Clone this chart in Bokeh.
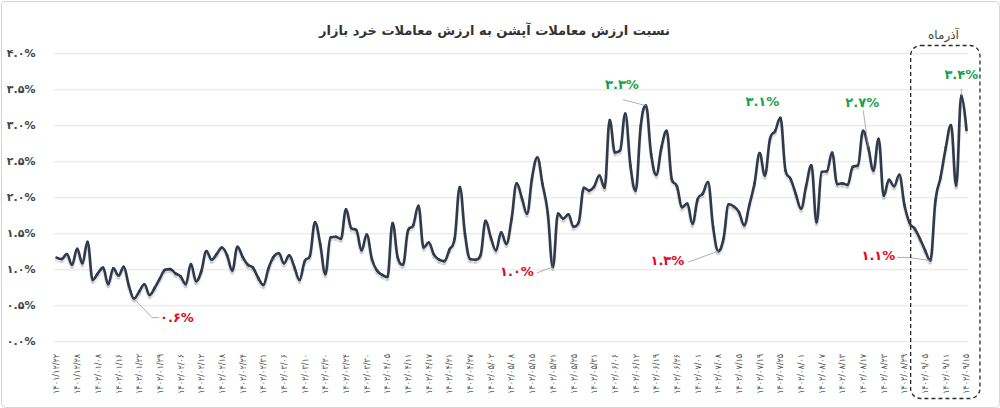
import numpy as np
from bokeh.plotting import figure
from bokeh.models import (Range1d, FixedTicker, Label, BoxAnnotation, ColumnDataSource)
from bokeh.embed import file_html
from bokeh.resources import INLINE

# Daily ratio of option trading value to retail market trading value (%)
ratio = [
    1.17, 1.15, 1.22, 1.07, 1.29, 1.09, 1.39, 0.86, 0.95, 1.03,
    0.80, 1.02, 0.92, 1.04, 0.78, 0.60, 0.70, 0.80, 0.65, 0.75,
    0.88, 1.00, 1.01, 0.95, 0.91, 0.80, 1.08, 0.84, 0.98, 1.26,
    1.14, 1.22, 1.31, 1.20, 0.99, 1.32, 1.18, 1.07, 1.03, 0.89,
    0.79, 1.02, 1.18, 1.23, 1.09, 1.20, 1.04, 0.86, 1.12, 1.19,
    1.66, 1.36, 0.94, 1.45, 1.46, 1.43, 1.84, 1.58, 1.55, 1.27,
    1.49, 1.15, 0.99, 0.93, 0.90, 1.65, 1.17, 1.07, 1.55, 1.62,
    1.89, 1.31, 1.38, 1.21, 1.14, 1.12, 1.28, 1.43, 2.15, 1.50,
    1.15, 1.14, 1.20, 1.68, 1.45, 1.27, 1.52, 1.36, 1.70, 2.20,
    2.00, 1.78, 2.29, 2.56, 2.19, 1.80, 1.04, 1.78, 1.71, 1.77,
    1.60, 1.66, 2.14, 2.10, 2.16, 2.31, 2.14, 3.08, 2.63, 2.66,
    3.17, 2.45, 2.10, 3.00, 3.28, 2.61, 2.32, 2.70, 2.93, 2.26,
    2.16, 1.87, 1.92, 1.64, 1.98, 2.06, 2.22, 1.59, 1.26, 1.43,
    1.91, 1.88, 1.80, 1.62, 1.90, 2.20, 2.62, 2.31, 2.82, 2.93,
    3.11, 2.38, 2.26, 2.05, 1.85, 2.17, 2.45, 1.66, 2.36, 2.37,
    2.63, 2.19, 2.20, 2.18, 2.43, 2.45, 2.93, 2.70, 2.38, 2.82,
    2.03, 2.25, 2.16, 2.32, 1.90, 1.65, 1.57, 1.43, 1.27, 1.13,
    1.96, 2.29, 2.70, 3.01, 2.17, 3.42, 2.94,
]

# Dates shown on the x axis (one every fourth trading day)
date_labels = [
    "۱۴۰۱/۱۲/۲۲", "۱۴۰۱/۱۲/۲۸", "۱۴۰۲/۰۱/۰۸", "۱۴۰۲/۰۱/۱۶", "۱۴۰۲/۰۱/۲۲",
    "۱۴۰۲/۰۱/۲۹", "۱۴۰۲/۰۲/۰۶", "۱۴۰۲/۰۲/۱۲", "۱۴۰۲/۰۲/۱۸", "۱۴۰۲/۰۲/۲۴",
    "۱۴۰۲/۰۲/۳۱", "۱۴۰۲/۰۳/۰۶", "۱۴۰۲/۰۳/۱۰", "۱۴۰۲/۰۳/۲۰", "۱۴۰۲/۰۳/۲۴",
    "۱۴۰۲/۰۳/۳۰", "۱۴۰۲/۰۴/۰۵", "۱۴۰۲/۰۴/۱۱", "۱۴۰۲/۰۴/۱۷", "۱۴۰۲/۰۴/۲۱",
    "۱۴۰۲/۰۴/۲۷", "۱۴۰۲/۰۵/۰۲", "۱۴۰۲/۰۵/۰۸", "۱۴۰۲/۰۵/۱۵", "۱۴۰۲/۰۵/۲۱",
    "۱۴۰۲/۰۵/۲۵", "۱۴۰۲/۰۵/۳۱", "۱۴۰۲/۰۶/۰۶", "۱۴۰۲/۰۶/۱۲", "۱۴۰۲/۰۶/۱۹",
    "۱۴۰۲/۰۶/۲۶", "۱۴۰۲/۰۷/۰۱", "۱۴۰۲/۰۷/۰۸", "۱۴۰۲/۰۷/۱۵", "۱۴۰۲/۰۷/۱۹",
    "۱۴۰۲/۰۷/۲۵", "۱۴۰۲/۰۸/۰۱", "۱۴۰۲/۰۸/۰۷", "۱۴۰۲/۰۸/۱۳", "۱۴۰۲/۰۸/۱۷",
    "۱۴۰۲/۰۸/۲۳", "۱۴۰۲/۰۸/۲۹", "۱۴۰۲/۰۹/۰۵", "۱۴۰۲/۰۹/۱۱", "۱۴۰۲/۰۹/۱۵",
]
label_step = 4

y_ticks = [0.0, 0.5, 1.0, 1.5, 2.0, 2.5, 3.0, 3.5, 4.0]
y_tick_labels = ["۰.۰%", "۰.۵%", "۱.۰%", "۱.۵%", "۲.۰%", "۲.۵%", "۳.۰%", "۳.۵%", "۴.۰%"]

# Called-out lows and highs (index into ratio)
low_points = [15, 96, 128, 169]
high_points = [114, 140, 157, 175]

title_text = "نسبت ارزش معاملات آپشن به ارزش معاملات خرد بازار"
month_text = "آذرماه"

FA_DIGITS = str.maketrans("0123456789", "۰۱۲۳۴۵۶۷۸۹")


def fa_percent(v):
    return f"{v:.1f}%".translate(FA_DIGITS)


def spline_parts(xs, ys, smoothing=1.5):
    """Bezier control points so extremes stay flat (no overshoot)."""
    n = len(xs)
    denom = smoothing + 1
    lc = [(xs[i], ys[i]) for i in range(n)]
    rc = [(xs[i], ys[i]) for i in range(n)]
    for i in range(1, n - 1):
        x, y = xs[i], ys[i]
        lx, ly = xs[i - 1], ys[i - 1]
        nx, ny = xs[i + 1], ys[i + 1]
        lcx = (smoothing * x + lx) / denom
        lcy = (smoothing * y + ly) / denom
        rcx = (smoothing * x + nx) / denom
        rcy = (smoothing * y + ny) / denom
        corr = ((rcy - lcy) * (rcx - x)) / (rcx - lcx) + y - rcy
        lcy += corr
        rcy += corr
        if lcy > ly and lcy > y:
            lcy = max(ly, y); rcy = 2 * y - lcy
        elif lcy < ly and lcy < y:
            lcy = min(ly, y); rcy = 2 * y - lcy
        if rcy > ny and rcy > y:
            rcy = max(ny, y); lcy = 2 * y - rcy
        elif rcy < ny and rcy < y:
            rcy = min(ny, y); lcy = 2 * y - rcy
        lc[i] = (lcx, lcy)
        rc[i] = (rcx, rcy)
    return dict(
        x0=xs[:-1], y0=ys[:-1], x1=xs[1:], y1=ys[1:],
        cx0=[c[0] for c in rc[:-1]], cy0=[c[1] for c in rc[:-1]],
        cx1=[c[0] for c in lc[1:]], cy1=[c[1] for c in lc[1:]],
    )


n = len(ratio)
xs = list(range(n))

# The frame fills the whole card; axes sit at fixed locations inside it.
W, H = 1000, 408
PLOT_L, PLOT_R = 53, 968          # pixel extent of the plotting area
FIRST_X, LAST_X = 56, 966          # pixel of first / last day
ZERO_Y, TOP_Y = 341.3, 53.3        # pixel of 0% and 4%
XS = (LAST_X - FIRST_X) / (n - 1)
YS = (ZERO_Y - TOP_Y) / 4.0
x_start = -FIRST_X / XS
x_end = x_start + W / XS
y_start = -(H - ZERO_Y) / YS
y_end = y_start + H / YS
x_left = x_start + PLOT_L / XS
x_right = x_start + PLOT_R / XS

FONT = "DejaVu Sans"
NARROW = "DejaVu Sans Condensed"

p = figure(
    width=W, height=H, output_backend="svg", toolbar_location=None, title=None,
    x_range=Range1d(x_start, x_end), y_range=Range1d(y_start, y_end),
    min_border=0, background_fill_color="white", border_fill_color="white",
)
p.outline_line_color = None
p.xgrid.grid_line_color = None
p.ygrid.grid_line_color = None

p.yaxis.fixed_location = x_left
p.yaxis.ticker = FixedTicker(ticks=y_ticks)
p.yaxis.major_label_overrides = {t: s for t, s in zip(y_ticks, y_tick_labels)}
p.yaxis.axis_line_color = None
p.yaxis.major_tick_line_color = None
p.yaxis.minor_tick_line_color = None
p.yaxis.major_label_standoff = 12
p.yaxis.major_label_text_font = FONT
p.yaxis.major_label_text_font_size = "11px"
p.yaxis.major_label_text_font_style = "bold"
p.yaxis.major_label_text_color = "#444444"

x_ticks = [i * label_step for i in range(len(date_labels))]
p.xaxis.fixed_location = 0
p.xaxis.ticker = FixedTicker(ticks=x_ticks)
p.xaxis.major_label_overrides = {t: s for t, s in zip(x_ticks, date_labels)}
p.xaxis.major_label_orientation = np.pi / 2
p.xaxis.axis_line_color = None
p.xaxis.major_tick_line_color = None
p.xaxis.minor_tick_line_color = None
p.xaxis.major_label_standoff = 6
p.xaxis.major_label_text_font = NARROW
p.xaxis.major_label_text_font_size = "9px"
p.xaxis.major_label_text_color = "#555555"

# horizontal grid lines at the y ticks, limited to the plotting area
p.segment(x0=[x_left] * len(y_ticks), x1=[x_right] * len(y_ticks),
          y0=y_ticks, y1=y_ticks, line_color="#e4e4e4", line_width=1)

# soft shadow under the curve, then the curve itself
parts = spline_parts(xs, ratio)
shadow = dict(parts)
for k in ("y0", "y1", "cy0", "cy1"):
    shadow[k] = [v - 2.5 / YS for v in parts[k]]
p.bezier(source=ColumnDataSource(shadow), x0="x0", y0="y0", x1="x1", y1="y1",
         cx0="cx0", cy0="cy0", cx1="cx1", cy1="cy1",
         line_color="#000000", line_alpha=0.10, line_width=3.5, line_cap="round")
p.bezier(source=ColumnDataSource(parts), x0="x0", y0="y0", x1="x1", y1="y1",
         cx0="cx0", cy0="cy0", cx1="cx1", cy1="cy1",
         line_color="#2f3a4c", line_width=2.6, line_cap="round", line_join="round")

# call-out labels: (label dx, dy, align) in pixels, plus a connector path
callouts = {
    15: (26, 19, "left", [(0, 0), (18, 19), (25, 19)]),
    96: (-19, 5, "right", [(0, 0), (-16, 6)]),
    128: (-34, 9, "right", [(0, 0), (-30, 11)]),
    169: (-35, -5, "right", [(0, 0), (-22, -3), (-33, -3)]),
    114: (-24, -21, "center", [(0, 0), (-23, -6)]),
    140: (-18, -16, "center", []),
    157: (-6, -45, "center", [(0, 0), (-5, -37)]),
    175: (0, -21, "center", [(0, 0), (0, -7)]),
}

for idx in low_points + high_points:
    dx, dy, align, path = callouts[idx]
    color = "#e3061f" if idx in low_points else "#17a24a"
    v = ratio[idx]
    if path:
        p.line([idx + px / XS for px, _ in path], [v - py / YS for _, py in path],
               line_color="#9a9a9a", line_width=0.8)
    p.add_layout(Label(x=idx, y=v, x_offset=dx, y_offset=-dy, text=fa_percent(v),
                       text_align=align, text_baseline="middle",
                       text_font=FONT, text_font_size="13px", text_font_style="bold",
                       text_color=color))

# month highlight box and its caption
p.add_layout(BoxAnnotation(left=165.2, right=178.6, left_units="data", right_units="data",
                           top=45, bottom=398, top_units="canvas", bottom_units="canvas",
                           fill_alpha=0, line_color="#2a2a2a", line_alpha=1.0,
                           line_width=1.3, line_dash="4 3", border_radius=10))
p.add_layout(Label(x=943, y=34, x_units="canvas", y_units="canvas", text=month_text,
                   text_align="center", text_baseline="middle",
                   text_font=FONT, text_font_size="12px", text_color="#444444"))

# title
p.add_layout(Label(x=494, y=30, x_units="canvas", y_units="canvas", text=title_text,
                   text_align="center", text_baseline="middle",
                   text_font=FONT, text_font_size="13px", text_font_style="bold",
                   text_color="#333333"))

# card border
p.add_layout(BoxAnnotation(left=1, right=W - 1, top=1, bottom=H - 1,
                           left_units="canvas", right_units="canvas",
                           top_units="canvas", bottom_units="canvas",
                           fill_alpha=0, line_color="#d6d6d6", line_alpha=1.0,
                           line_width=1, border_radius=4))

with open("out.html", "w", encoding="utf-8") as f:
    f.write(file_html(p, INLINE))
